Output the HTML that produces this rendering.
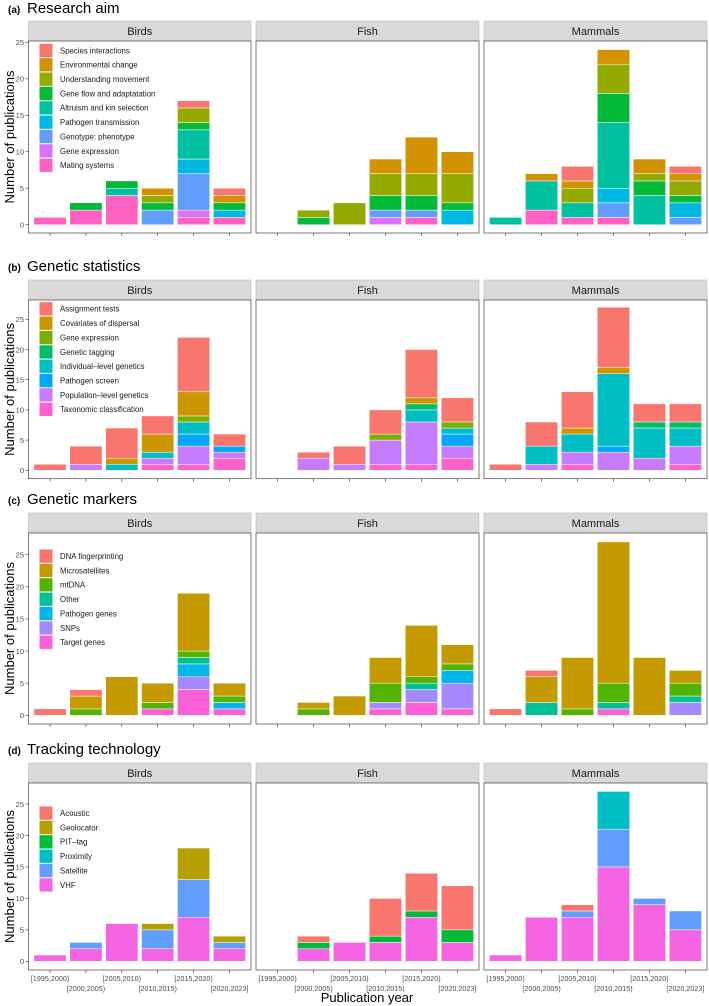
<!DOCTYPE html>
<html><head><meta charset="utf-8">
<style>
html,body{margin:0;padding:0;background:#fff;}
svg{display:block;font-family:"Liberation Sans",sans-serif;}
</style></head>
<body>
<svg id="chart" width="709" height="1006" viewBox="0 0 709 1006" xmlns="http://www.w3.org/2000/svg"></svg>
<script>
const categories = ["[1995,2000)","[2000,2005)","[2005,2010)","[2010,2015)","[2015,2020)","[2020,2023]"];
const species = ["Birds","Fish","Mammals"];
const yTicks = [0,5,10,15,20,25];

const aimLevels = ["Species interactions","Environmental change","Understanding movement","Gene flow and adaptatation","Altruism and kin selection","Pathogen transmission","Genotype: phenotype","Gene expression","Mating systems"];
const aimColors = ["#F8766D","#D39200","#93AA00","#00BA38","#00C19F","#00B9E3","#619CFF","#DB72FB","#FF61C3"];
const aimBirds = [[0,0,0,0,1,1],[0,0,0,1,0,1],[0,0,0,1,2,0],[0,1,1,1,1,1],[0,0,1,0,4,0],[0,0,0,0,2,1],[0,0,0,2,5,0],[0,0,0,0,1,0],[1,2,4,0,1,1]];
const aimFish = [[0,0,0,0,0,0],[0,0,0,2,5,3],[0,1,3,3,3,4],[0,1,0,2,2,1],[0,0,0,0,0,0],[0,0,0,0,0,2],[0,0,0,1,1,0],[0,0,0,1,0,0],[0,0,0,0,1,0]];
const aimMammals = [[0,0,2,0,0,1],[0,1,1,2,2,1],[0,0,2,4,1,2],[0,0,0,4,2,1],[1,4,2,9,4,0],[0,0,0,2,0,2],[0,0,0,2,0,1],[0,0,0,0,0,0],[0,2,1,1,0,0]];

const statLevels = ["Assignment tests","Covariates of dispersal","Gene expression","Genetic tagging","Individual\u2013level genetics","Pathogen screen","Population\u2013level genetics","Taxonomic classification"];
const statColors = ["#F8766D","#CD9600","#7CAE00","#00BE67","#00BFC4","#00A9FF","#C77CFF","#FF61CC"];
const statBirds = [[1,3,5,3,9,2],[0,0,1,3,4,0],[0,0,0,0,1,0],[0,0,0,0,0,0],[0,0,1,1,2,0],[0,0,0,0,2,1],[0,1,0,1,3,1],[0,0,0,1,1,2]];
const statFish = [[0,1,3,4,8,4],[0,0,0,0,1,0],[0,0,0,1,0,1],[0,0,0,0,1,0],[0,0,0,0,2,1],[0,0,0,0,0,2],[0,2,1,4,7,2],[0,0,0,1,1,2]];
const statMammals = [[1,4,6,10,3,3],[0,0,1,1,0,0],[0,0,0,0,0,0],[0,0,0,0,1,1],[0,3,3,12,5,3],[0,0,0,1,0,0],[0,1,2,3,2,3],[0,0,1,0,0,1]];

const markLevels = ["DNA fingerprinting","Microsatellites","mtDNA","Other","Pathogen genes","SNPs","Target genes"];
const markColors = ["#F8766D","#C49A00","#53B400","#00C094","#00B6EB","#A58AFF","#FB61D7"];
const markBirds = [[1,1,0,0,0,0],[0,2,6,3,9,2],[0,1,0,1,1,1],[0,0,0,0,1,0],[0,0,0,0,2,1],[0,0,0,0,2,0],[0,0,0,1,4,1]];
const markFish = [[0,0,0,0,0,0],[0,1,3,4,8,3],[0,1,0,3,1,1],[0,0,0,0,1,0],[0,0,0,0,0,2],[0,0,0,1,2,4],[0,0,0,1,2,1]];
const markMammals = [[1,1,0,0,0,0],[0,4,8,22,9,2],[0,0,1,3,0,2],[0,2,0,1,0,1],[0,0,0,0,0,0],[0,0,0,0,0,2],[0,0,0,1,0,0]];

const trackLevels = ["Acoustic","Geolocator","PIT\u2013tag","Proximity","Satellite","VHF"];
const trackColors = ["#F8766D","#B79F00","#00BA38","#00BFC4","#619CFF","#F564E3"];
const trackBirds = [[0,0,0,0,0,0],[0,0,0,1,5,1],[0,0,0,0,0,0],[0,0,0,0,0,0],[0,1,0,3,6,1],[1,2,6,2,7,2]];
const trackFish = [[0,1,0,6,6,7],[0,0,0,0,0,0],[0,1,0,1,1,2],[0,0,0,0,0,0],[0,0,0,0,0,0],[0,2,3,3,7,3]];
const trackMammals = [[0,0,1,0,0,0],[0,0,0,0,0,0],[0,0,0,0,0,0],[0,0,0,6,0,0],[0,0,1,6,1,3],[1,7,7,15,9,5]];

const NS = "http://www.w3.org/2000/svg";
const svg = document.getElementById("chart");
function mk(tag, attrs, parent){ const e=document.createElementNS(NS,tag); for(const k in attrs) e.setAttribute(k,attrs[k]); (parent||svg).appendChild(e); return e; }

const rows = [
 {key:"a", title:"Research aim", tb:13, st:21, sb:41, y0:224.7, y25:42.3, pb:233, levels:aimLevels, colors:aimColors, data:[aimBirds,aimFish,aimMammals], leg:43.3},
 {key:"b", title:"Genetic statistics", tb:271, st:280, sb:300, y0:470.3, y25:319.3, pb:478.7, levels:statLevels, colors:statColors, data:[statBirds,statFish,statMammals], leg:301.7},
 {key:"c", title:"Genetic markers", tb:504, st:513, sb:533, y0:715.3, y25:554.7, pb:724, levels:markLevels, colors:markColors, data:[markBirds,markFish,markMammals], leg:549},
 {key:"d", title:"Tracking technology", tb:754, st:763, sb:783, y0:961.3, y25:804, pb:970, levels:trackLevels, colors:trackColors, data:[trackBirds,trackFish,trackMammals], leg:806}
];
const panelsX = [[28.5,251],[256,479],[484,707]];

rows.forEach((r,ri)=>{
  const g = mk("g",{});
  
  
  const t = mk("text",{x:8,y:r.tb,"font-size":"10","font-weight":"bold",fill:"#000"},g);
  t.textContent="("+r.key+")";
  
  
  const t2 = mk("text",{x:27,y:r.tb,"font-size":"15",fill:"#000"},g);
  t2.textContent=r.title;
  
  
  const yScale = v => r.y0 + (r.y25 - r.y0) * v / 25;
  // y axis title
  const ym = (r.sb + r.pb)/2;
  const yt = mk("text",{x:0,y:0,"font-size":"13",fill:"#000","text-anchor":"middle",transform:`translate(14,${ym}) rotate(-90)`},g);
  yt.textContent="Number of publications";
  
  
  // y ticks
  yTicks.forEach(v=>{
    const y=yScale(v);
    const tl=mk("text",{x:24,y:y+2.8,"font-size":"7.5",fill:"#4d4d4d","text-anchor":"end"},g);
    tl.textContent=String(v);
    
    
    mk("line",{x1:25.5,x2:28.5,y1:y,y2:y,stroke:"#333","stroke-width":"0.6"},g);
  });
  panelsX.forEach((px,si)=>{
    const [L,R]=px; const unit=(R-L)/6.2; const bw=unit*0.9;
    const xc = i => L + (i+0.6)*unit;
    // strip
    const s=mk("rect",{x:L,y:r.st,width:R-L,height:r.sb-r.st,fill:"#d9d9d9",stroke:"#bdbdbd","stroke-width":"0.6"},g);
    
    
    const st=mk("text",{x:(L+R)/2,y:(r.st+r.sb)/2+4,"font-size":"11",fill:"#1a1a1a","text-anchor":"middle"},g);
    st.textContent=species[si];
    
    
    const p=mk("rect",{x:L,y:r.sb,width:R-L,height:r.pb-r.sb,fill:"#fff",stroke:"#444","stroke-width":"0.7"},g);
    
    
    const data=r.data[si];
    for(let c=0;c<6;c++){
      let cum=0;
      for(let l=data.length-1;l>=0;l--){
        const v=data[l][c]; if(!v) continue;
        const yb=yScale(cum), yt2=yScale(cum+v);
        const b=mk("rect",{x:xc(c)-bw/2,y:yt2,width:bw,height:yb-yt2,fill:r.colors[l],stroke:"#fff","stroke-width":"0.5"},g);
        
        
        cum+=v;
      }
      mk("line",{x1:xc(c),x2:xc(c),y1:r.pb,y2:r.pb+3,stroke:"#333","stroke-width":"0.6"},g);
      if(r.key==="d"){
        const xl=mk("text",{x:xc(c),y:(c%2===0)?981:991,"font-size":"7.2",fill:"#4d4d4d","text-anchor":"middle"},g);
        xl.textContent=categories[c];
        
        
      }
    }
  });
  // legend
  r.levels.forEach((lv,i)=>{
    const y=r.leg+i*14.35;
    const k=mk("rect",{x:39.5,y:y+0.5,width:13,height:13.3,fill:r.colors[i]},g);
    
    
    const lt=mk("text",{x:60,y:y+10,"font-size":"7.8",fill:"#1a1a1a",textLength:"",},g);
    lt.removeAttribute("textLength");
    lt.textContent=lv;
    
    
  });
});
const xt=mk("text",{x:367,y:1002,"font-size":"13",fill:"#000","text-anchor":"middle"});
xt.textContent="Publication year";


</script>
</body></html>
